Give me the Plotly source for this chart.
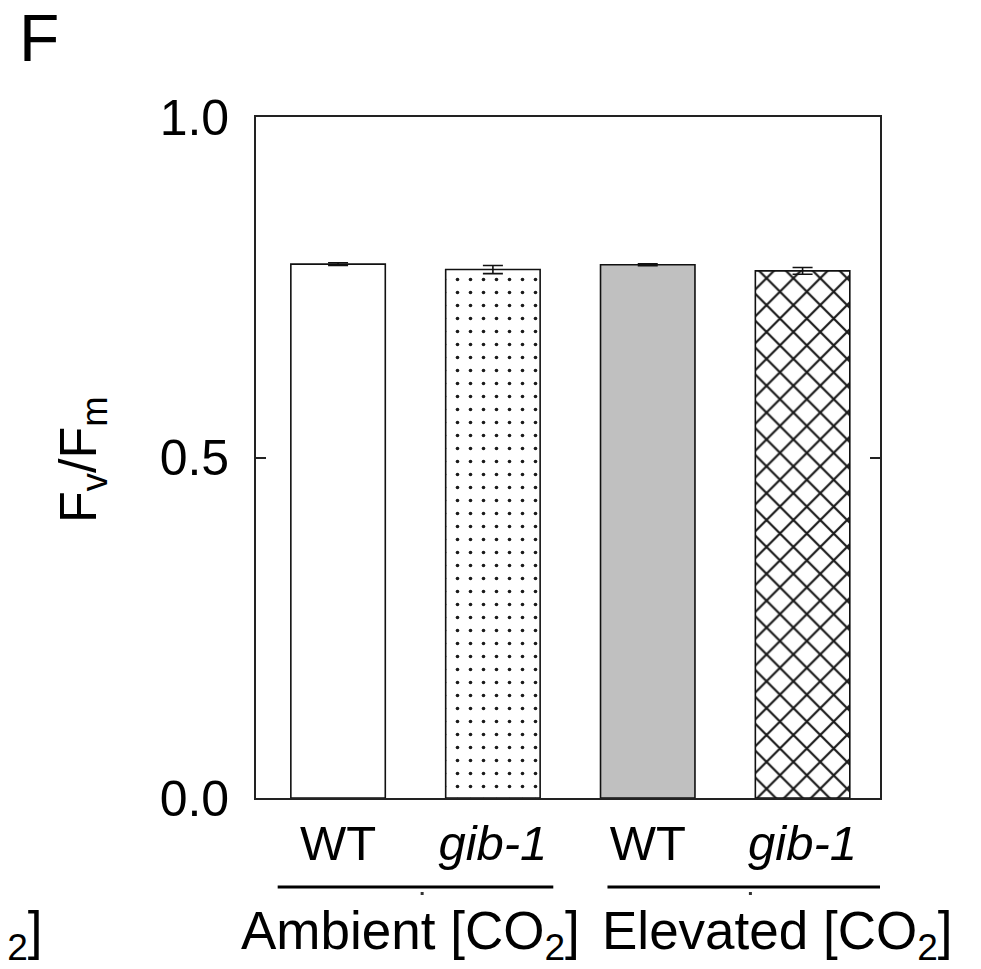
import plotly.graph_objects as go

categories = ["WT", "gib-1", "WT", "gib-1"]
tick_labels = ["WT", "<i>gib-1</i>", "WT", "<i>gib-1</i>"]
values = [0.784, 0.776, 0.783, 0.774]
errors = [0.002, 0.006, 0.0015, 0.005]
groups = ["Ambient [CO<sub>2</sub>]", "Elevated [CO<sub>2</sub>]"]
fills = ["white", "white", "#c0c0c0", "white"]
patterns = ["", ".", "", "x"]
pattern_sizes = [8, 13, 8, 19]
pattern_solidity = [0.1, 0.06, 0.1, 0.22]

FONT = "Liberation Sans, Arial, sans-serif"
OFF = 8  # browser body margin
W, H = 981 - OFF, 969 - OFF
L = 256 - OFF
T = 117 - OFF
R = W - (880 - OFF)
B = H - (798 - OFF)
pw = W - L - R
ph = H - T - B

def px_to_paper_x(px):
    return (px - OFF - L) / pw

def px_to_paper_y(py):
    return (H - B - (py - OFF)) / ph

x_idx = list(range(len(categories)))

fig = go.Figure()
for i in x_idx:
    marker = dict(color=fills[i], line=dict(color="#111111", width=1.6))
    if patterns[i]:
        marker["pattern"] = dict(shape=patterns[i], size=pattern_sizes[i],
                                 solidity=pattern_solidity[i], fgcolor="#1a1a1a",
                                 fgopacity=1, bgcolor=fills[i], fillmode="overlay")
    fig.add_trace(go.Bar(
        x=[x_idx[i]], y=[values[i]], width=0.61, marker=marker,
        error_y=dict(type="data", array=[errors[i]], visible=True, color="#111111",
                     thickness=1.6, width=10),
        showlegend=False, name=categories[i],
    ))

fig.update_layout(
    width=W, height=H,
    margin=dict(l=L, r=R, t=T, b=B, pad=0),
    paper_bgcolor="white", plot_bgcolor="white",
    font=dict(family=FONT, size=50, color="black"),
    barmode="overlay",
)
fig.update_xaxes(
    range=[-0.53, 3.5],
    tickmode="array", tickvals=x_idx, ticktext=tick_labels,
    ticks="", showline=True, mirror=True, linecolor="#222222", linewidth=1.6,
    showgrid=False, zeroline=False, tickfont=dict(size=49, family=FONT),
    ticklabelstandoff=1,
)
fig.update_yaxes(
    range=[0, 1],
    tickmode="array", tickvals=[0, 0.5, 1.0], ticktext=["0.0", "0.5", "1.0"],
    ticks="inside", ticklen=10, tickwidth=1.6, tickcolor="#222222",
    showline=True, mirror="ticks", linecolor="#222222", linewidth=1.6,
    showgrid=False, zeroline=False, tickfont=dict(size=50, family=FONT),
    ticklabelstandoff=15,
)

# group underlines with the small mark below each
line_y = px_to_paper_y(887)
mark_y0, mark_y1 = px_to_paper_y(892), px_to_paper_y(895)
spans = [(-0.39, 1.39), (1.74, 3.51)]
marks = [0.543, 2.663]
for (x0, x1), mx in zip(spans, marks):
    fig.add_shape(type="line", xref="x", yref="paper", x0=x0, x1=x1, y0=line_y, y1=line_y,
                  line=dict(color="black", width=3))
    fig.add_shape(type="line", xref="x", yref="paper", x0=mx, x1=mx, y0=mark_y0, y1=mark_y1,
                  line=dict(color="#333333", width=3))

# group labels
label_y = px_to_paper_y(899)
for gx, gtext in zip([0.465, 2.84], groups):
    fig.add_annotation(text=gtext, xref="x", yref="paper", x=gx, y=label_y,
                       xanchor="center", yanchor="top", showarrow=False,
                       font=dict(size=53, family=FONT))

# partial label from neighbouring panel
fig.add_annotation(text=groups[1], xref="paper", yref="paper", x=px_to_paper_x(45), y=label_y,
                   xanchor="right", yanchor="top", showarrow=False,
                   font=dict(size=53, family=FONT))

# y-axis title
fig.add_annotation(text="F<sub>v</sub>/F<sub>m</sub>", xref="paper", yref="paper",
                   x=px_to_paper_x(82), y=px_to_paper_y(460), xanchor="center", yanchor="middle",
                   textangle=-90, showarrow=False, font=dict(size=52, family=FONT))

# panel letter
fig.add_annotation(text="F", xref="paper", yref="paper", x=px_to_paper_x(17), y=px_to_paper_y(-1),
                   xanchor="left", yanchor="top", showarrow=False, font=dict(size=66, family=FONT))

fig.write_html("out.html")
